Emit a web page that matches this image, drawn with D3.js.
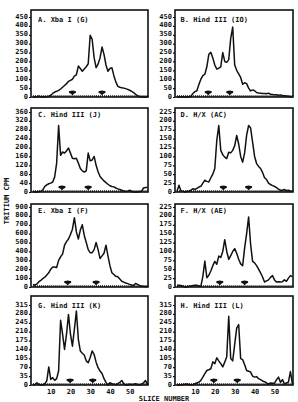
<!DOCTYPE html>
<html>
<head>
<meta charset="utf-8">
<script src="https://cdnjs.cloudflare.com/ajax/libs/d3/7.8.5/d3.min.js"></script>
<style>
  body { margin: 0; background: #fff; }
  text { font-family: "DejaVu Sans Mono", monospace; font-weight: bold; fill: #111; }
</style>
</head>
<body>
<div id="chart"></div>
<script>
var svgWidth = 298;
var svgHeight = 402;

// slice numbers along the gradient
var slices = d3.range(1, 60);

// tritium counts per slice, one array per panel
var valuesA = [0, 0, 0, 5, 0, 0, 0, 2, 5, 10, 20, 28, 32, 37, 45, 55, 65, 75, 88, 94,
  100, 118, 125, 174, 160, 145, 158, 170, 187, 347, 325, 220, 165, 185, 220, 281, 240, 180, 145, 160,
  165, 120, 85, 60, 55, 52, 50, 47, 43, 38, 32, 25, 15, 8, 3, 0, 0, 0, 0];
var valuesB = [0, 0, 0, 0, 0, 0, 0, 5, 20, 30, 35, 70, 100, 120, 128, 170, 240, 251, 220, 180,
  157, 162, 170, 250, 200, 195, 210, 330, 393, 180, 150, 130, 110, 72, 80, 75, 50, 34, 40, 35,
  25, 22, 21, 20, 19, 18, 22, 15, 14, 12, 13, 10, 12, 8, 7, 6, 4, 2, 0];
var valuesC = [0, 0, 0, 2, 3, 10, 25, 32, 37, 40, 45, 68, 130, 299, 165, 180, 175, 185, 198, 175,
  152, 150, 152, 130, 106, 95, 90, 95, 175, 140, 144, 160, 120, 91, 70, 60, 50, 42, 35, 28,
  25, 23, 18, 14, 11, 8, 5, 2, 4, 8, 3, 0, 0, 0, 2, 3, 18, 20, 20];
var valuesD = [2, 19, 3, 2, 0, 2, 3, 5, 9, 7, 10, 14, 16, 25, 33, 30, 28, 40, 50, 66,
  145, 187, 117, 105, 98, 94, 112, 110, 117, 130, 159, 135, 100, 84, 110, 160, 187, 180, 140, 100,
  80, 72, 66, 55, 40, 35, 25, 21, 18, 16, 12, 8, 5, 5, 7, 4, 5, 3, 2];
var valuesE = [30, 20, 35, 60, 75, 95, 110, 135, 160, 200, 225, 225, 220, 300, 340, 370, 470, 510, 540, 590,
  650, 780, 620, 540, 640, 700, 580, 500, 420, 386, 386, 420, 500, 420, 320, 350, 380, 470, 350, 240,
  160, 140, 120, 115, 90, 65, 55, 45, 38, 30, 22, 18, 40, 30, 18, 12, 8, 7, 5];
var valuesF = [5, 5, 4, 2, 0, 0, 2, 3, 4, 5, 5, 3, 2, 30, 73, 26, 33, 45, 60, 72,
  64, 87, 83, 100, 133, 100, 78, 88, 100, 108, 95, 78, 65, 60, 110, 150, 197, 120, 72, 68,
  60, 50, 40, 28, 14, 17, 20, 27, 32, 20, 14, 15, 14, 15, 20, 16, 25, 32, 29];
var valuesG = [0, 2, 9, 2, 0, 0, 5, 16, 71, 22, 29, 18, 25, 55, 255, 200, 140, 200, 278, 200,
  153, 220, 291, 180, 134, 125, 118, 95, 88, 108, 134, 120, 90, 68, 55, 45, 25, 10, 0, 9,
  5, 3, 2, 5, 10, 18, 5, 0, 2, 3, 2, 3, 5, 2, 0, 3, 8, 18, 2];
var valuesH = [0, 0, 0, 2, 3, 4, 2, 0, 2, 5, 8, 11, 18, 31, 45, 57, 60, 64, 91, 84,
  107, 95, 84, 71, 90, 111, 271, 104, 95, 160, 224, 238, 104, 100, 80, 57, 54, 51, 35, 31,
  33, 25, 21, 16, 13, 8, 4, 8, 7, 7, 20, 31, 11, 21, 4, 8, 11, 53, 4];

// y tick labels per panel
var ticksA = [0, 50, 100, 150, 200, 250, 300, 350, 400, 450];
var ticksB = [0, 50, 100, 150, 200, 250, 300, 350, 400, 450];
var ticksC = [0, 40, 80, 120, 160, 200, 240, 280, 320, 360];
var ticksD = [0, 25, 50, 75, 100, 125, 150, 175, 200, 225];
var ticksE = [0, 100, 200, 300, 400, 500, 600, 700, 800, 900];
var ticksF = [0, 25, 50, 75, 100, 125, 150, 175, 200, 225];
var ticksG = [0, 35, 70, 105, 140, 175, 210, 245, 280, 315];
var ticksH = [0, 35, 70, 105, 140, 175, 210, 245, 280, 315];

// size-marker positions (slice number)
var markersA = [21, 36];
var markersB = [16.7, 27.5];
var markersC = [15.7, 29];
var markersD = [24.3, 37];
var markersE = [18.6, 33];
var markersF = [22.5, 35];
var markersG = [19.8, 31.3];
var markersH = [19.5, 31.3];

var titles = ["A. Xba I (G)", "B. Hind III (IO)", "C. Hind III (J)", "D. H/X (AC)",
  "E. Xba I (F)", "F. H/X (AE)", "G. Hind III (K)", "H. Hind III (L)"];

var xTickLabels = [10, 20, 30, 40, 50];

var panels = [
  { values: valuesA, ticks: ticksA, markers: markersA },
  { values: valuesB, ticks: ticksB, markers: markersB },
  { values: valuesC, ticks: ticksC, markers: markersC },
  { values: valuesD, ticks: ticksD, markers: markersD },
  { values: valuesE, ticks: ticksE, markers: markersE },
  { values: valuesF, ticks: ticksF, markers: markersF },
  { values: valuesG, ticks: ticksG, markers: markersG },
  { values: valuesH, ticks: ticksH, markers: markersH }
];

// layout of the 2 x 4 grid
var cols = [{ left: 31, right: 148 }, { left: 175, right: 293 }];
var rows = [
  { top: 10, bottom: 97, title: 21.5 },
  { top: 108, bottom: 192, title: 117 },
  { top: 204, bottom: 287, title: 213 },
  { top: 296, bottom: 385, title: 308 }
];
var tickSpan = 80;

var svg = d3.select("#chart")
  .append("svg")
  .attr("width", svgWidth)
  .attr("height", svgHeight);

svg.append("rect")
  .attr("width", svgWidth)
  .attr("height", svgHeight)
  .attr("fill", "#fff");

panels.forEach(function(p, i) {
  var col = cols[i % 2];
  var row = rows[Math.floor(i / 2)];

  var xScale = d3.scaleLinear()
    .domain([0, 59.3])
    .range([col.left, col.right]);

  var yScale = d3.scaleLinear()
    .domain([0, d3.max(p.ticks)])
    .range([row.bottom, row.bottom - tickSpan]);

  var g = svg.append("g");

  // y axis labels
  var leftAxis = d3.axisLeft(yScale)
    .tickValues(p.ticks)
    .tickSize(2)
    .tickPadding(1);
  var yAxis = g.append("g")
    .attr("transform", `translate(${col.left}, 0)`)
    .call(leftAxis);
  yAxis.select(".domain").remove();
  yAxis.selectAll("line").attr("stroke", "#111").attr("stroke-width", 1.2);
  yAxis.selectAll("text")
    .attr("dy", "0.15em")
    .style("font-size", "7px")
    .style("font-family", "'DejaVu Sans Mono', monospace")
    .style("font-weight", "bold");

  // slice ticks along the bottom edge
  var bottomAxis = d3.axisBottom(xScale)
    .tickValues(slices)
    .tickSize(-1.8)
    .tickFormat("");
  var xAxis = g.append("g")
    .attr("transform", `translate(0, ${row.bottom})`)
    .call(bottomAxis);
  xAxis.select(".domain").remove();
  xAxis.selectAll("line").attr("stroke", "#111").attr("stroke-width", 1);

  // slice number labels on the bottom row only
  if (i >= 6) {
    var labelAxis = d3.axisBottom(xScale)
      .tickValues(xTickLabels)
      .tickSize(0)
      .tickPadding(4);
    var lab = g.append("g")
      .attr("transform", `translate(0, ${row.bottom})`)
      .call(labelAxis);
    lab.select(".domain").remove();
    lab.selectAll("text")
      .style("font-size", "7px")
      .style("font-family", "'DejaVu Sans Mono', monospace")
      .style("font-weight", "bold");
  }

  // frame
  g.append("rect")
    .attr("x", col.left)
    .attr("y", row.top)
    .attr("width", col.right - col.left)
    .attr("height", row.bottom - row.top)
    .attr("fill", "none")
    .attr("stroke", "#111")
    .attr("stroke-width", 1.6);

  // profile line
  var line = d3.line()
    .x((d, j) => xScale(slices[j]))
    .y(d => yScale(d));
  g.append("path")
    .datum(p.values)
    .attr("d", line)
    .attr("fill", "none")
    .attr("stroke", "#111")
    .attr("stroke-width", 1.5)
    .attr("stroke-linejoin", "round");

  // size markers
  var mk = g.selectAll(".marker")
    .data(p.markers)
    .enter()
    .append("g")
    .attr("transform", d => `translate(${xScale(d)}, ${row.bottom})`);
  mk.append("ellipse")
    .attr("cx", 0)
    .attr("cy", -5)
    .attr("rx", 3.6)
    .attr("ry", 1.5)
    .attr("fill", "#111");
  mk.append("path")
    .attr("d", "M-2.6,-4.8L2.6,-4.8L0,-1.6Z")
    .attr("fill", "#111");

  // panel title
  g.append("text")
    .attr("x", col.left + (i % 2 === 0 ? 7 : 5.5))
    .attr("y", row.title)
    .style("font-size", "7px")
    .text(titles[i]);
});

// shared axis titles
svg.append("text")
  .attr("transform", "translate(9, 201) rotate(-90)")
  .attr("text-anchor", "middle")
  .style("font-size", "7px")
  .text("TRITIUM CPM");

svg.append("text")
  .attr("x", 164)
  .attr("y", 401)
  .attr("text-anchor", "middle")
  .style("font-size", "7px")
  .text("SLICE NUMBER");
</script>
</body>
</html>
